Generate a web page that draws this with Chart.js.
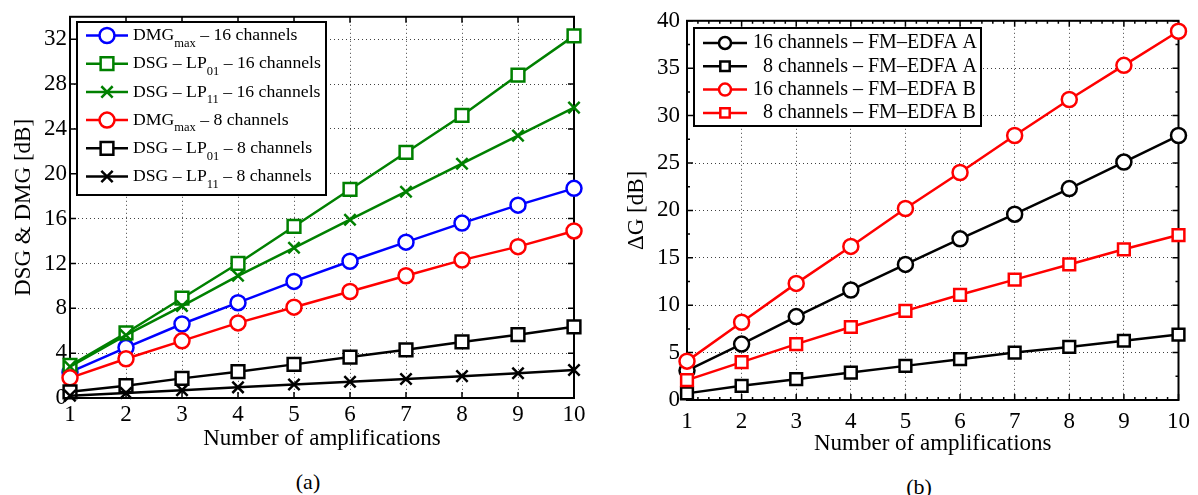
<!DOCTYPE html>
<html>
<head>
<meta charset="utf-8">
<script src="https://cdn.jsdelivr.net/npm/chart.js@4.4.0/dist/chart.umd.min.js"></script>
<style>
  html, body { margin: 0; padding: 0; background: #fff; }
  body { width: 1198px; height: 495px; position: relative; overflow: hidden; font-family: "Liberation Serif", serif; }
  .panel { position: absolute; top: 0; }
  #boxA { left: 0; }
  #boxB { left: 600px; }
  .cap { position: absolute; font-size: 22px; line-height: 24px; transform: translateX(-50%); color: #000; }
</style>
</head>
<body>
<div class="panel" id="boxA"><canvas id="chartA" width="600" height="462"></canvas></div>
<div class="panel" id="boxB"><canvas id="chartB" width="598" height="467"></canvas></div>
<div class="cap" style="left:308px; top:470px">(a)</div>
<div class="cap" style="left:919px; top:475px">(b)</div>
<script>
// x values and tick labels
const amplifications = [1, 2, 3, 4, 5, 6, 7, 8, 9, 10];
const xTicks = [1, 2, 3, 4, 5, 6, 7, 8, 9, 10];
const yTicksA = [0, 4, 8, 12, 16, 20, 24, 28, 32];
const yTicksB = [0, 5, 10, 15, 20, 25, 30, 35, 40];

// panel (a) - DSG & DMG [dB]
const dmgMax16 = [2.3, 4.5, 6.6, 8.5, 10.4, 12.2, 13.9, 15.6, 17.2, 18.7];
const dsgLP01x16 = [2.9, 5.8, 8.9, 12.0, 15.3, 18.6, 21.9, 25.2, 28.8, 32.3];
const dsgLP11x16 = [2.8, 5.6, 8.2, 10.9, 13.4, 15.9, 18.4, 20.9, 23.4, 25.9];
const dmgMax8 = [1.8, 3.5, 5.1, 6.7, 8.1, 9.5, 10.9, 12.3, 13.5, 14.9];
const dsgLP01x8 = [0.55, 1.1, 1.75, 2.35, 3.0, 3.65, 4.3, 5.0, 5.65, 6.35];
const dsgLP11x8 = [0.2, 0.45, 0.7, 0.95, 1.2, 1.45, 1.7, 1.95, 2.2, 2.5];
const labelsA = ['DMG_{max} \u2013 16 channels', 'DSG \u2013 LP_{01} \u2013 16 channels', 'DSG \u2013 LP_{11} \u2013 16 channels',
  'DMG_{max} \u2013 8 channels', 'DSG \u2013 LP_{01} \u2013 8 channels', 'DSG \u2013 LP_{11} \u2013 8 channels'];

// panel (b) - delta G [dB]
const ch16A = [3.1, 5.9, 8.8, 11.6, 14.3, 17.0, 19.6, 22.3, 25.1, 27.9];
const ch8A = [0.7, 1.5, 2.2, 2.9, 3.6, 4.3, 5.0, 5.6, 6.25, 6.9];
const ch16B = [4.1, 8.2, 12.3, 16.2, 20.2, 24.0, 27.9, 31.7, 35.3, 38.9];
const ch8B = [2.1, 4.0, 5.9, 7.7, 9.4, 11.1, 12.7, 14.3, 15.9, 17.4];
const labelsB = ['16 channels \u2013 FM\u2013EDFA A', '  8 channels \u2013 FM\u2013EDFA A',
  '16 channels \u2013 FM\u2013EDFA B', '  8 channels \u2013 FM\u2013EDFA B'];

Chart.defaults.font.family = '"Liberation Serif", "Times New Roman", serif';
Chart.defaults.color = '#000';

const toPoints = (arr) => amplifications.map((n, i) => ({ x: n, y: arr[i] }));

const makeSet = (label, values, color, style, radius, idx, total) => ({
  label: label,
  data: toPoints(values),
  borderColor: color,
  backgroundColor: '#fff',
  borderWidth: 2.5,
  pointStyle: style,
  pointRadius: radius,
  pointBorderWidth: 2.5,
  pointBackgroundColor: '#fff',
  pointBorderColor: color,
  tension: 0,
  fill: false,
  clip: false,
  order: total - idx
});

// inward ticks on all four sides + black box, like a matlab axes
const framePlugin = {
  id: 'axesFrame',
  beforeDatasetsDraw(chart, args, opts) {
    const { ctx, chartArea: a, scales } = chart;
    const xs = scales.x, ys = scales.y;
    ctx.save();
    ctx.strokeStyle = '#000';
    ctx.lineWidth = 1.5;
    const drawX = (v, len) => {
      const px = xs.getPixelForValue(v);
      ctx.beginPath();
      ctx.moveTo(px, a.bottom); ctx.lineTo(px, a.bottom - len);
      ctx.moveTo(px, a.top); ctx.lineTo(px, a.top + len);
      ctx.stroke();
    };
    const drawY = (v, len) => {
      const py = ys.getPixelForValue(v);
      ctx.beginPath();
      ctx.moveTo(a.left, py); ctx.lineTo(a.left + len, py);
      ctx.moveTo(a.right, py); ctx.lineTo(a.right - len, py);
      ctx.stroke();
    };
    const xt = opts.xTicks, yt = opts.yTicks;
    xt.forEach(v => drawX(v, opts.major));
    yt.forEach(v => drawY(v, opts.major));
    if (opts.minorX > 1) {
      for (let i = 0; i < xt.length - 1; i++) {
        const step = (xt[i + 1] - xt[i]) / opts.minorX;
        for (let k = 1; k < opts.minorX; k++) drawX(xt[i] + k * step, opts.minor);
      }
    }
    if (opts.minorY > 1) {
      for (let i = 0; i < yt.length - 1; i++) {
        const step = (yt[i + 1] - yt[i]) / opts.minorY;
        for (let k = 1; k < opts.minorY; k++) drawY(yt[i] + k * step, opts.minor);
      }
    }
    ctx.lineWidth = 2;
    ctx.strokeRect(a.left, a.top, a.right - a.left, a.bottom - a.top);
    ctx.restore();
  }
};

// boxed legend with subscripts (LP_{01} etc.)
const legendPlugin = {
  id: 'subLegend',
  afterDraw(chart, args, opts) {
    const ctx = chart.ctx;
    ctx.save();
    ctx.fillStyle = '#fff';
    ctx.fillRect(opts.x, opts.y, opts.w, opts.h);
    ctx.lineWidth = 2;
    ctx.strokeStyle = '#000';
    ctx.strokeRect(opts.x, opts.y, opts.w, opts.h);
    chart.data.datasets.forEach((ds, i) => {
      const cy = opts.y + opts.firstRow + i * opts.rowGap;
      ctx.strokeStyle = ds.borderColor;
      ctx.lineWidth = ds.borderWidth;
      ctx.beginPath();
      ctx.moveTo(opts.lineX0, cy);
      ctx.lineTo(opts.lineX1, cy);
      ctx.stroke();
      ctx.fillStyle = '#fff';
      ctx.lineWidth = ds.pointBorderWidth;
      Chart.helpers.drawPoint(ctx, {
        pointStyle: ds.pointStyle,
        radius: ds.pointRadius * opts.markerScale,
        borderWidth: ds.pointBorderWidth,
        rotation: 0
      }, (opts.lineX0 + opts.lineX1) / 2, cy);

      let tx = opts.textX;
      const parts = ds.label.split(/(_\{[^}]*\})/);
      ctx.fillStyle = '#000';
      ctx.textBaseline = 'middle';
      ctx.textAlign = 'left';
      parts.forEach(p => {
        if (!p) return;
        if (p.startsWith('_{')) {
          const s = p.slice(2, -1);
          ctx.font = opts.subFont;
          ctx.fillText(s, tx, cy + opts.subShift);
          tx += ctx.measureText(s).width;
        } else {
          ctx.font = opts.font;
          ctx.fillText(p, tx, cy);
          tx += ctx.measureText(p).width;
        }
      });
    });
    ctx.restore();
  }
};

const axisFont = { size: 23, family: '"Liberation Serif", serif' };

const chartA = new Chart(document.getElementById('chartA'), {
  type: 'line',
  data: {
    datasets: [
      makeSet(labelsA[0], dmgMax16, '#0000ff', 'circle', 7.5, 0, 6),
      makeSet(labelsA[1], dsgLP01x16, '#008000', 'rect', 9, 1, 6),
      makeSet(labelsA[2], dsgLP11x16, '#008000', 'crossRot', 8, 2, 6),
      makeSet(labelsA[3], dmgMax8, '#ff0000', 'circle', 7.5, 3, 6),
      makeSet(labelsA[4], dsgLP01x8, '#000000', 'rect', 9, 4, 6),
      makeSet(labelsA[5], dsgLP11x8, '#000000', 'crossRot', 8, 5, 6)
    ]
  },
  options: {
    responsive: false,
    animation: false,
    devicePixelRatio: 1,
    layout: { padding: { top: 14, right: 26, left: 0, bottom: 0 } },
    scales: {
      x: {
        type: 'linear', min: 1, max: 10,
        afterBuildTicks: (s) => { s.ticks = xTicks.map(v => ({ value: v })); },
        afterFit: (s) => { s.height = 64; },
        grid: { color: 'rgba(0,0,0,0.75)', lineWidth: 1, drawTicks: false },
        border: { display: false, dash: [1, 3] },
        ticks: { font: axisFont, padding: 3, maxRotation: 0 },
        title: { display: true, text: 'Number of amplifications', font: axisFont, padding: { top: 0, bottom: 9 } }
      },
      y: {
        type: 'linear', min: 0, max: 34,
        afterBuildTicks: (s) => { s.ticks = yTicksA.map(v => ({ value: v })); },
        afterFit: (s) => { s.width = 70; },
        grid: { color: 'rgba(0,0,0,0.75)', lineWidth: 1, drawTicks: false },
        border: { display: false, dash: [1, 3] },
        ticks: { font: axisFont, padding: 3 },
        title: { display: true, text: 'DSG & DMG [dB]', font: axisFont, padding: { top: 10, bottom: 0 } }
      }
    },
    plugins: {
      legend: { display: false },
      tooltip: { enabled: false },
      axesFrame: { xTicks: xTicks, yTicks: yTicksA, major: 6, minor: 3, minorX: 1, minorY: 1 },
      subLegend: {
        x: 77, y: 22, w: 249, h: 173, firstRow: 13.5, rowGap: 28.2,
        lineX0: 86, lineX1: 128, textX: 133, markerScale: 1,
        font: '17.7px "Liberation Serif", serif', subFont: '12.5px "Liberation Serif", serif', subShift: 8
      }
    }
  },
  plugins: [framePlugin, legendPlugin]
});

const chartB = new Chart(document.getElementById('chartB'), {
  type: 'line',
  data: {
    datasets: [
      makeSet(labelsB[0], ch16A, '#000000', 'circle', 7.5, 0, 4),
      makeSet(labelsB[1], ch8A, '#000000', 'rect', 8.3, 1, 4),
      makeSet(labelsB[2], ch16B, '#ff0000', 'circle', 7.5, 2, 4),
      makeSet(labelsB[3], ch8B, '#ff0000', 'rect', 8.3, 3, 4)
    ]
  },
  options: {
    responsive: false,
    animation: false,
    devicePixelRatio: 1,
    layout: { padding: { top: 20, right: 15, left: 0, bottom: 0 } },
    scales: {
      x: {
        type: 'linear', min: 1, max: 10,
        afterBuildTicks: (s) => { s.ticks = xTicks.map(v => ({ value: v })); },
        afterFit: (s) => { s.height = 67; },
        grid: { color: 'rgba(0,0,0,0.75)', lineWidth: 1, drawTicks: false },
        border: { display: false, dash: [1, 3] },
        ticks: { font: axisFont, padding: 8, maxRotation: 0 },
        title: { display: true, text: 'Number of amplifications', font: axisFont, padding: { top: 0, bottom: 9 } }
      },
      y: {
        type: 'linear', min: 0, max: 40,
        afterBuildTicks: (s) => { s.ticks = yTicksB.map(v => ({ value: v })); },
        afterFit: (s) => { s.width = 87; },
        grid: { color: 'rgba(0,0,0,0.75)', lineWidth: 1, drawTicks: false },
        border: { display: false, dash: [1, 3] },
        ticks: { font: axisFont, padding: 7 },
        title: { display: true, text: '\u0394G [dB]', font: axisFont, padding: { top: 23, bottom: 0 } }
      }
    },
    plugins: {
      legend: { display: false },
      tooltip: { enabled: false },
      axesFrame: { xTicks: xTicks, yTicks: yTicksB, major: 6, minor: 3, minorX: 5, minorY: 2 },
      subLegend: {
        x: 94, y: 28, w: 287, h: 98, firstRow: 15, rowGap: 23.3,
        lineX0: 103, lineX1: 147, textX: 153, markerScale: 0.8,
        font: '20px "Liberation Serif", serif', subFont: '14px "Liberation Serif", serif', subShift: 8
      }
    }
  },
  plugins: [framePlugin, legendPlugin]
});
</script>
</body>
</html>
